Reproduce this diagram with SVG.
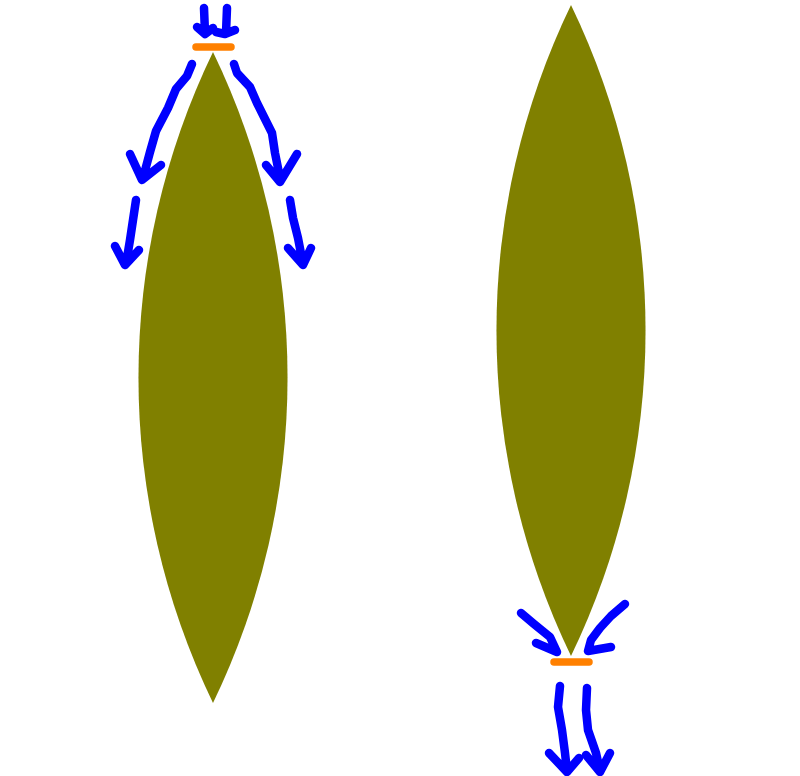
<svg xmlns="http://www.w3.org/2000/svg" width="800" height="776" viewBox="0 0 800 776">
<style>
.lens{fill:#808000}
.arr{fill:none;stroke:#0000ff;stroke-width:8.5;stroke-linecap:round;stroke-linejoin:round}
.plate{stroke:#ff8000;stroke-width:7.5;stroke-linecap:round}
</style>
<rect width="800" height="776" fill="#fff"/>
<g id="lens1"><path class="lens" d="M213 52 A748 748 0 0 1 213 703 A748 748 0 0 1 213 52 Z"/></g>
<g id="lens2"><path class="lens" d="M571 5 A748 748 0 0 1 571 656 A748 748 0 0 1 571 5 Z"/></g>
<g id="plate1"><line class="plate" x1="196" y1="47" x2="231" y2="47"/></g>
<g id="plate2"><line class="plate" x1="554" y1="662" x2="589" y2="662"/></g>
<g id="connectors">
<path class="arr" d="M204 8 L205 33 M197 27 L205 34 L213 28"/>
<path class="arr" d="M227 8 L226 33 M216 32 L225 34 L235 30"/>
<path class="arr" d="M192 64 L187 76 L176 89 L168 108 L156 131 L150 152 L143 178 M130 154 L142 180 L161 165"/>
<path class="arr" d="M234 64 L237 73 L250 87 L257 103 L264 117 L272 133 L275 153 L280 178 M266 165 L280 182 L297 154"/>
<path class="arr" d="M136 200 L133 220 L130 240 L126 264 M115 246 L125 265 L139 250"/>
<path class="arr" d="M290 200 L293 218 L298 238 L303 264 M288 248 L303 265 L311 248"/>
<path class="arr" d="M521 613 L534 624 L550 637 L557 652 M536 643 L557 652"/>
<path class="arr" d="M625 604 L611 616 L600 628 L591 640 L588 651 M588 651 L611 647"/>
<path class="arr" d="M560 686 L558 707 L562 730 L565 753 L567 771 M549 753 L567 772 L579 758"/>
<path class="arr" d="M587 688 L586 710 L588 730 L596 753 L600 771 M586 755 L600 772 L610 753"/>
</g>
</svg>
